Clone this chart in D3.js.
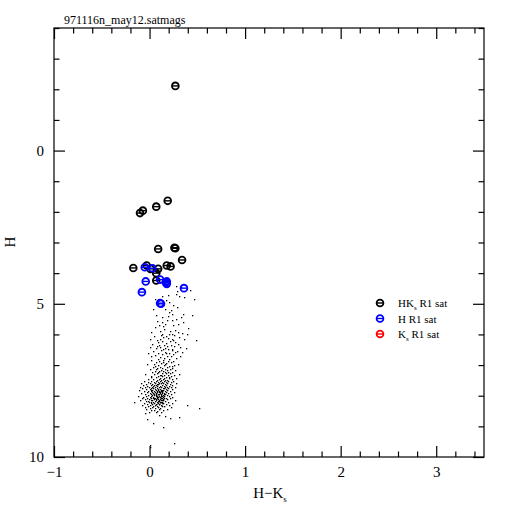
<!DOCTYPE html>
<html>
<head>
<meta charset="utf-8">
<script src="https://cdn.jsdelivr.net/npm/d3@7"></script>
<style>
  body { margin: 0; background: #fff; }
  svg { display: block; }
</style>
</head>
<body>
<svg id="chart" width="512" height="512"></svg>
<script>
// Data: colour H-Ks and magnitude H
const chartTitle = "971116n_may12.satmags";

// saturated in both H and Ks (black)
const satHK = [
  [0.27, -2.11], [-0.10, 2.04], [-0.07, 1.96], [0.07, 1.83], [0.19, 1.64],
  [0.09, 3.21], [0.26, 3.17], [0.27, 3.19], [0.34, 3.57], [-0.17, 3.83],
  [-0.03, 3.75], [0.01, 3.86], [0.09, 3.86], [0.18, 3.75], [0.22, 3.78],
  [0.07, 4.00], [0.07, 4.24]
];

// saturated in H only (blue)
const satH = [
  [-0.05, 3.81], [0.03, 3.84], [-0.04, 4.27], [-0.08, 4.62], [0.11, 4.21],
  [0.18, 4.27], [0.18, 4.35], [0.17, 4.30], [0.36, 4.49], [0.11, 4.98], [0.12, 5.00]
];

// saturated in Ks only (red) - none in this field
const satK = [];

// unsaturated stars (small dots)
const starDots = [
  [0.28,4.42],[0.33,4.44],[0.29,4.57],[0.42,4.55],[0.13,4.74],[0.19,4.70],[0.06,4.83],
  [0.28,4.67],[0.31,4.73],[0.46,4.84],[0.20,4.95],[0.25,5.05],[0.29,5.11],[0.04,5.16],
  [0.16,5.16],[0.20,5.27],[0.23,5.32],[0.35,5.32],[0.07,5.38],[0.44,5.38],[0.13,5.43],
  [0.28,5.49],[0.23,5.54],[0.13,5.60],[0.35,5.60],[0.16,5.65],[0.30,5.65],[0.25,5.70],
  [0.14,5.74],[0.06,5.76],[0.02,5.92],[0.30,5.92],[0.34,5.95],[0.13,5.97],[0.39,5.97],
  [0.17,4.88],[0.36,4.78],[0.09,5.02],[0.22,5.21],[0.33,5.44],[0.18,5.52],[0.10,5.68],
  [0.40,5.80],[0.27,5.84],[0.21,5.88],[0.08,5.55],[0.19,5.40],[0.15,5.83],[0.24,5.98],
  [0.11,5.90],
  [0.00,6.14],[0.09,6.25],[0.23,6.14],[0.27,6.25],[0.11,6.41],[0.16,6.43],[0.32,6.41],
  [0.00,6.41],[0.49,6.19],[0.12,6.02],[0.17,6.05],[0.20,6.00],[0.26,6.03],[0.31,6.08],
  [0.05,6.06],[0.14,6.10],[0.19,6.12],[0.36,6.15],[0.08,6.18],[0.21,6.20],[0.25,6.18],
  [0.13,6.22],[0.17,6.27],[0.30,6.30],[0.03,6.31],[0.10,6.33],[0.22,6.34],[0.15,6.36],
  [0.26,6.38],[0.07,6.45],[0.19,6.47],[0.23,6.50],[0.12,6.52],[0.29,6.53],[0.04,6.55],
  [0.16,6.57],[0.09,6.60],[0.20,6.61],[0.25,6.63],[0.34,6.58],[0.13,6.65],[0.06,6.68],
  [0.18,6.70],[0.22,6.72],[0.11,6.74],[0.28,6.76],[0.01,6.72],[0.15,6.78],[0.09,6.80],
  [0.20,6.80],[0.24,6.46],[0.14,6.48],[0.18,6.38],[0.11,6.16],[0.27,6.56],[0.08,6.37],
  [0.32,6.69],[0.17,6.62],[-0.02,6.62],[0.38,6.44],
  [0.02,6.84],[0.10,6.86],[0.14,6.85],[0.19,6.88],[0.25,6.87],[0.07,6.90],[0.12,6.92],
  [0.17,6.94],[0.22,6.91],[0.30,6.95],[-0.03,6.96],[0.05,6.98],[0.09,7.00],[0.15,7.01],
  [0.20,7.02],[0.26,7.00],[0.11,7.05],[0.04,7.07],[0.13,7.08],[0.18,7.07],[0.23,7.09],
  [0.08,7.11],[0.16,7.12],[0.21,7.14],[0.00,7.13],[0.12,7.16],[0.27,7.15],[0.06,7.18],
  [0.10,7.19],[0.14,7.20],[0.19,7.21],[0.24,7.22],[0.03,7.24],[0.08,7.25],[0.13,7.26],
  [0.17,7.27],[0.21,7.26],[0.31,7.28],[-0.05,7.29],[0.05,7.30],[0.11,7.31],[0.15,7.32],
  [0.19,7.33],[0.26,7.32],[0.01,7.35],[0.09,7.36],[0.13,7.37],[0.17,7.38],[0.22,7.36],
  [0.07,7.40],[0.11,7.41],[0.15,7.42],[0.20,7.43],[0.28,7.41],[-0.02,7.44],[0.04,7.45],
  [0.10,7.46],[0.14,7.47],[0.18,7.48],[0.23,7.46],[0.08,7.49],[0.12,7.50],[0.16,7.50],
  [0.06,7.03],[0.16,6.97],[0.09,7.22],[0.12,7.34],[0.18,7.16],[0.02,7.40],[0.24,7.04],
  [0.14,6.89],[0.07,7.14],[0.20,7.39],[0.16,7.24],
  [-0.06,7.52],[0.02,7.52],[0.07,7.53],[0.11,7.52],[0.15,7.51],[0.19,7.53],[0.25,7.52],
  [-0.02,7.55],[0.05,7.56],[0.09,7.55],[0.13,7.54],[0.17,7.56],[0.22,7.55],
  [-0.09,7.58],[0.00,7.59],[0.06,7.58],[0.10,7.57],[0.14,7.59],[0.18,7.58],[0.28,7.58],
  [-0.04,7.61],[0.03,7.62],[0.08,7.61],[0.12,7.60],[0.16,7.62],[0.21,7.61],
  [-0.07,7.64],[0.01,7.64],[0.05,7.65],[0.09,7.63],[0.13,7.64],[0.17,7.65],[0.24,7.64],
  [-0.03,7.67],[0.04,7.68],[0.07,7.66],[0.11,7.67],[0.15,7.68],[0.20,7.67],
  [-0.10,7.70],[-0.01,7.71],[0.03,7.70],[0.08,7.69],[0.12,7.71],[0.16,7.70],[0.22,7.70],
  [-0.05,7.73],[0.02,7.74],[0.06,7.73],[0.10,7.72],[0.14,7.74],[0.18,7.73],[0.27,7.73],
  [-0.08,7.76],[0.00,7.77],[0.04,7.76],[0.08,7.75],[0.11,7.77],[0.15,7.76],[0.19,7.76],
  [-0.04,7.79],[0.02,7.80],[0.06,7.79],[0.09,7.78],[0.13,7.80],[0.17,7.79],[0.23,7.79],
  [-0.11,7.82],[-0.02,7.83],[0.03,7.82],[0.07,7.81],[0.10,7.83],[0.14,7.82],[0.18,7.82],
  [-0.06,7.85],[0.01,7.86],[0.05,7.85],[0.08,7.84],[0.12,7.86],[0.16,7.85],[0.21,7.85],
  [-0.03,7.88],[0.03,7.89],[0.06,7.88],[0.10,7.87],[0.13,7.89],[0.17,7.88],[0.26,7.88],
  [-0.09,7.91],[0.00,7.92],[0.04,7.91],[0.07,7.90],[0.11,7.92],[0.15,7.91],[0.19,7.91],
  [-0.05,7.94],[0.02,7.95],[0.05,7.94],[0.09,7.93],[0.12,7.95],[0.16,7.94],[0.22,7.94],
  [-0.02,7.97],[0.03,7.98],[0.07,7.97],[0.10,7.96],[0.14,7.98],[0.18,7.97],
  [-0.12,8.00],[-0.04,8.01],[0.01,8.00],[0.05,7.99],[0.08,8.01],[0.12,8.00],[0.15,8.01],[0.20,8.00],
  [-0.07,8.03],[0.00,8.04],[0.04,8.03],[0.07,8.02],[0.11,8.04],[0.14,8.03],[0.24,8.03],
  [-0.03,8.06],[0.02,8.07],[0.06,8.06],[0.09,8.05],[0.12,8.07],[0.17,8.06],
  [-0.08,8.09],[-0.01,8.10],[0.04,8.09],[0.08,8.08],[0.11,8.10],[0.15,8.09],[0.21,8.09],
  [-0.05,8.12],[0.01,8.13],[0.05,8.12],[0.09,8.11],[0.13,8.13],[0.18,8.12],
  [-0.10,8.15],[-0.02,8.16],[0.03,8.15],[0.07,8.14],[0.10,8.16],[0.14,8.15],[0.27,8.15],
  [-0.04,8.18],[0.02,8.19],[0.06,8.18],[0.09,8.17],[0.12,8.19],[0.16,8.18],
  [-0.16,8.21],[-0.01,8.22],[0.04,8.21],[0.08,8.20],[0.11,8.22],[0.19,8.21],
  [-0.06,8.24],[0.01,8.25],[0.05,8.24],[0.09,8.23],[0.14,8.25],[0.23,8.24],
  [-0.03,8.27],[0.03,8.28],[0.07,8.27],[0.10,8.26],[0.17,8.27],
  [-0.08,8.30],[0.00,8.31],[0.06,8.30],[0.12,8.29],[0.20,8.30],[0.39,8.30],
  [-0.02,8.33],[0.04,8.34],[0.08,8.33],[0.15,8.32],
  [-0.05,8.36],[0.03,8.37],[0.09,8.36],[0.13,8.35],[0.22,8.36],
  [0.00,8.40],[0.06,8.41],[0.11,8.39],[0.52,8.40],
  [-0.04,8.44],[0.05,8.45],[0.10,8.43],[0.18,8.44],
  [0.02,8.48],[0.08,8.49],[0.14,8.47],
  [-0.01,8.53],[0.07,8.54],[0.12,8.52],
  [0.085,7.80],[0.115,7.81],[0.095,7.84],[0.135,7.86],[0.075,7.87],[0.105,7.89],
  [0.125,7.92],[0.085,7.93],[0.065,7.96],[0.115,7.98],[0.095,8.01],[0.135,8.02],
  [0.075,8.04],[0.105,8.05],[0.125,8.08],[0.065,8.10],[0.095,8.13],[0.115,8.14],
  [0.085,8.17],[0.135,8.19],[0.075,8.20],[0.105,8.22],[0.125,8.25],[0.065,8.26],
  [0.095,8.28],[0.115,8.31],[0.145,8.12],[0.155,7.96],[0.045,8.07],[0.035,7.90],
  [-0.03,8.77],[0.04,8.90],[0.14,9.03],[0.26,9.55],[0.00,9.62],[0.00,9.68],
  [0.21,8.74],[0.10,8.62],[0.16,8.66],[-0.05,8.58],[0.31,8.70]
];

const xMajorTicks = [-1, 0, 1, 2, 3];
const yMajorTicks = [0, 5, 10];
const legendItems = [
  { base: "HK", sub: "s", rest: " R1 sat", color: "#000", data: satHK },
  { base: "H", sub: "", rest: " R1 sat", color: "#0000ff", data: satH },
  { base: "K", sub: "s", rest: " R1 sat", color: "#ff0000", data: satK }
];

const frame = { left: 54, right: 484, top: 28, bottom: 457 };
const serif = "Liberation Serif, DejaVu Serif, serif";

const x = d3.scaleLinear().domain([-1, 3.5]).range([frame.left, frame.right]);
const y = d3.scaleLinear().domain([-4, 10]).range([frame.top, frame.bottom]);

const svg = d3.select("#chart");

// ticks on all four sides, pointing inward
const xMinor = d3.range(-1, 3.5, 0.2).filter(v => Math.abs(v - Math.round(v)) > 1e-6);
const yMinor = d3.range(-4, 10, 1).filter(v => v % 5 !== 0);
const intFmt = d3.format("d");

function styleAxis(g) {
  g.select(".domain").remove();
  g.selectAll("line").attr("stroke", "#000").attr("stroke-width", 1.2);
  g.attr("font-family", serif).attr("font-size", 15);
}

// bottom
svg.append("g")
  .attr("transform", `translate(0,${frame.bottom})`)
  .call(d3.axisBottom(x).tickValues(xMajorTicks).tickFormat(intFmt).tickSize(-11).tickSizeOuter(0).tickPadding(9))
  .call(styleAxis);
svg.append("g")
  .attr("transform", `translate(0,${frame.bottom})`)
  .call(d3.axisBottom(x).tickValues(xMinor).tickSize(-5.5).tickSizeOuter(0).tickFormat(""))
  .call(styleAxis);
// top
svg.append("g")
  .attr("transform", `translate(0,${frame.top})`)
  .call(d3.axisTop(x).tickValues(xMajorTicks).tickSize(-11).tickSizeOuter(0).tickFormat(""))
  .call(styleAxis);
svg.append("g")
  .attr("transform", `translate(0,${frame.top})`)
  .call(d3.axisTop(x).tickValues(xMinor).tickSize(-5.5).tickSizeOuter(0).tickFormat(""))
  .call(styleAxis);
// left
svg.append("g")
  .attr("transform", `translate(${frame.left},0)`)
  .call(d3.axisLeft(y).tickValues(yMajorTicks).tickFormat(intFmt).tickSize(-11).tickSizeOuter(0).tickPadding(10))
  .call(styleAxis);
svg.append("g")
  .attr("transform", `translate(${frame.left},0)`)
  .call(d3.axisLeft(y).tickValues(yMinor).tickSize(-5.5).tickSizeOuter(0).tickFormat(""))
  .call(styleAxis);
// right
svg.append("g")
  .attr("transform", `translate(${frame.right},0)`)
  .call(d3.axisRight(y).tickValues(yMajorTicks).tickSize(-11).tickSizeOuter(0).tickFormat(""))
  .call(styleAxis);
svg.append("g")
  .attr("transform", `translate(${frame.right},0)`)
  .call(d3.axisRight(y).tickValues(yMinor).tickSize(-5.5).tickSizeOuter(0).tickFormat(""))
  .call(styleAxis);

// frame
svg.append("rect")
  .attr("x", frame.left).attr("y", frame.top)
  .attr("width", frame.right - frame.left).attr("height", frame.bottom - frame.top)
  .attr("fill", "none").attr("stroke", "#000").attr("stroke-width", 1.2);

// small dots
svg.append("g").selectAll("rect")
  .data(starDots)
  .enter().append("rect")
  .attr("x", d => Math.round(x(d[0])))
  .attr("y", d => Math.round(y(d[1])))
  .attr("width", 1.3).attr("height", 1.3)
  .attr("fill", "#000");

// saturated star marker: ring with a bar through it
function drawMarkers(g, data, color) {
  const m = g.selectAll("g.mk")
    .data(data)
    .enter().append("g")
    .attr("class", "mk")
    .attr("transform", d => `translate(${x(d[0])},${y(d[1])})`);
  m.append("circle")
    .attr("r", 3.4)
    .attr("fill", "none")
    .attr("stroke", color)
    .attr("stroke-width", 1.8);
  m.append("line")
    .attr("x1", -3).attr("x2", 3).attr("y1", 0).attr("y2", 0)
    .attr("stroke", color).attr("stroke-width", 1.4);
}

legendItems.forEach(item => drawMarkers(svg.append("g"), item.data, item.color));

// legend
const legend = svg.append("g")
  .attr("font-family", serif)
  .attr("font-size", 11);

legendItems.forEach((item, i) => {
  const ly = 303 + i * 15.5;
  drawMarkers(legend.append("g"), [[x.invert(380), y.invert(ly)]], item.color);
  const t = legend.append("text").attr("x", 398).attr("y", ly + 4);
  t.append("tspan").text(item.base);
  if (item.sub) t.append("tspan").attr("font-size", 7).attr("dy", 3).text(item.sub);
  t.append("tspan").attr("dy", item.sub ? -3 : 0).text(item.rest);
});

// title
svg.append("text")
  .attr("x", 64).attr("y", 24)
  .attr("font-family", serif).attr("font-size", 12)
  .text(chartTitle);

// axis labels
const xl = svg.append("text")
  .attr("x", 270).attr("y", 498)
  .attr("text-anchor", "middle")
  .attr("font-family", serif).attr("font-size", 15);
xl.append("tspan").text("H\u2212K");
xl.append("tspan").attr("font-size", 9).attr("dy", 4).text("s");

svg.append("text")
  .attr("transform", "translate(15,242) rotate(-90)")
  .attr("text-anchor", "middle")
  .attr("font-family", serif).attr("font-size", 15)
  .text("H");
</script>
</body>
</html>
